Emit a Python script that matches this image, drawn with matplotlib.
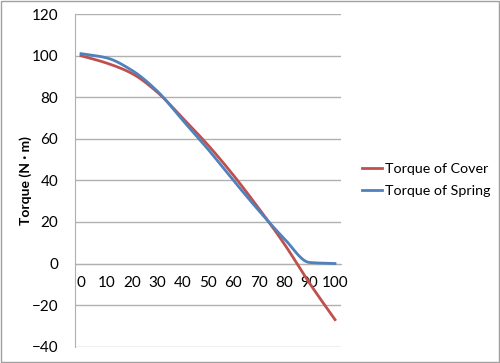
import numpy as np
import matplotlib.pyplot as plt
from matplotlib.patches import Rectangle

angle = [0, 10, 20, 30, 40, 50, 60, 70, 80, 90, 100]
torque_cover = [100, 96.5, 91.5, 82.5, 70, 57, 42.5, 26.5, 9.5, -9.5, -27]
torque_spring = [101, 99, 93, 83, 69, 55, 40, 25.5, 12, 0.5, 0]
y_ticks = [-40, -20, 0, 20, 40, 60, 80, 100, 120]


def smooth(xs, ys, n=30):
    # monotone cubic (Fritsch-Carlson) so the curve does not overshoot
    x = np.asarray(xs, float)
    y = np.asarray(ys, float)
    h = np.diff(x)
    d = np.diff(y) / h
    m = np.zeros_like(y)
    m[0], m[-1] = d[0], d[-1]
    for i in range(1, len(y) - 1):
        if d[i - 1] * d[i] <= 0:
            m[i] = 0
        else:
            w1 = 2 * h[i] + h[i - 1]
            w2 = h[i] + 2 * h[i - 1]
            m[i] = (w1 + w2) / (w1 / d[i - 1] + w2 / d[i])
    out_x, out_y = [x[0]], [y[0]]
    for i in range(len(x) - 1):
        t = np.linspace(0, 1, n)[1:]
        h00 = 2 * t**3 - 3 * t**2 + 1
        h10 = t**3 - 2 * t**2 + t
        h01 = -2 * t**3 + 3 * t**2
        h11 = t**3 - t**2
        out_x.extend(x[i] + t * h[i])
        out_y.extend(h00 * y[i] + h10 * h[i] * m[i] + h01 * y[i + 1] + h11 * h[i] * m[i + 1])
    return np.array(out_x), np.array(out_y)


plt.rcParams['font.family'] = ['Lato', 'DejaVu Sans']
plt.rcParams['font.size'] = 11

fig = plt.figure(figsize=(5, 3.63), dpi=100)
ax = fig.add_axes([0.15, 0.045, 0.532, 0.916])

grid_c = '#b0b0b0'
for yv in y_ticks:
    ax.axhline(yv, color=grid_c, lw=1, zorder=1)

sx, sy = smooth(angle, torque_cover)
ax.plot(sx, sy, color='#C0504D', lw=2, label='Torque of Cover', zorder=3)
sx, sy = smooth(angle, torque_spring)
ax.plot(sx, sy, color='#4F81BD', lw=2, label='Torque of Spring', zorder=3)

ax.set_xlim(-2.36, 102.36)
ax.set_ylim(-40, 120)
ax.set_yticks(y_ticks)
ax.set_xticks(angle)

for s in ['top', 'right']:
    ax.spines[s].set_visible(False)
ax.spines['bottom'].set_position(('data', 0))
ax.spines['bottom'].set_color(grid_c)
ax.spines['left'].set_color(grid_c)
ax.tick_params(axis='both', length=0)
ax.tick_params(axis='x', pad=9)
ax.tick_params(axis='y', pad=12)

ax.set_ylabel('Torque (N · m)', fontweight='bold', fontsize=10, labelpad=0)

ax.legend(loc='center left', bbox_to_anchor=(1.03, 0.5), frameon=False,
          fontsize=10.3, handlelength=1.4, handletextpad=0.2, labelspacing=0.7)

fig.add_artist(Rectangle((0.002, 0.003), 0.995, 0.994, transform=fig.transFigure,
                         fill=False, edgecolor='#a0a0a0', lw=1))

fig.savefig('out.png', dpi=100)
